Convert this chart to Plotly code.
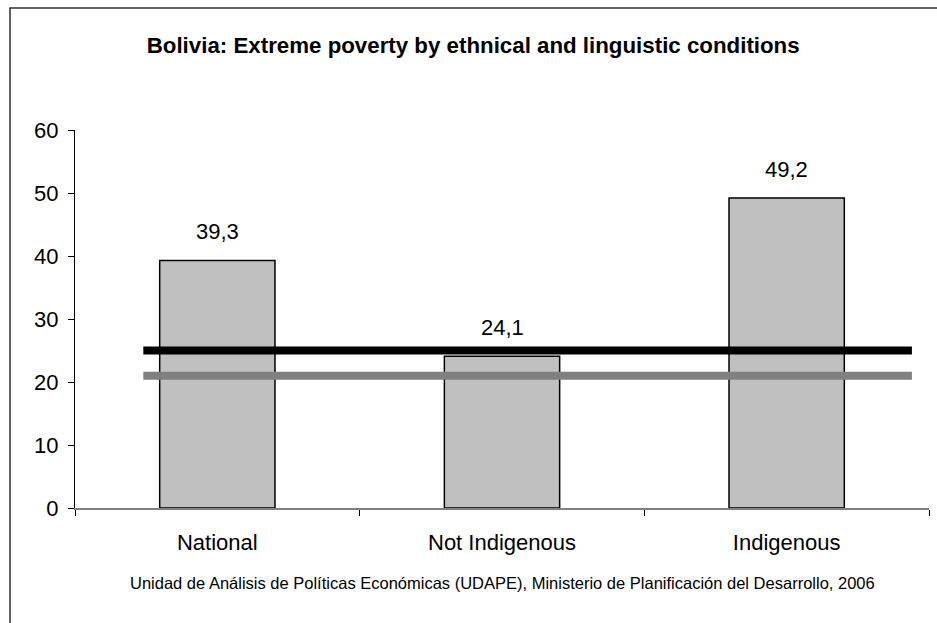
import plotly.graph_objects as go

categories = ["National", "Not Indigenous", "Indigenous"]
values = [39.3, 24.1, 49.2]
line_levels = [25, 21]
line_colors = ["#000000", "#808080"]
line_x = [-0.26, 2.44]
y_ticks = [0, 10, 20, 30, 40, 50, 60]

title = "Bolivia: Extreme poverty by ethnical and linguistic conditions"
source = "Unidad de Análisis de Políticas Económicas (UDAPE), Ministerio de Planificación del Desarrollo, 2006"

FONT = "Liberation Sans, Arial, sans-serif"

fig = go.Figure()
fig.add_trace(go.Bar(
    x=categories, y=values, width=0.405,
    marker=dict(color="#c0c0c0", line=dict(color="#000000", width=1.5)),
    showlegend=False, hoverinfo="skip",
))
for lvl, col in zip(line_levels, line_colors):
    fig.add_trace(go.Scatter(
        x=line_x, y=[lvl, lvl], xaxis="x2", mode="lines",
        line=dict(color=col, width=8), showlegend=False, hoverinfo="skip",
    ))

for c, v in zip(categories, values):
    fig.add_annotation(x=c, y=v, text=f"{v:.1f}".replace(".", ","), showarrow=False,
                       yshift=29, font=dict(size=22, color="#000000", family=FONT))

fig.add_annotation(xref="paper", yref="paper", x=0.5, y=-0.205, yshift=-9, text=source,
                   showarrow=False, font=dict(size=16.5, color="#000000", family=FONT))

fig.add_shape(type="rect", xref="paper", yref="paper", x0=-0.0761, x1=1.2, y0=-0.5, y1=1.323,
              line=dict(color="#303030", width=1.5), fillcolor="rgba(0,0,0,0)", layer="below")

fig.update_layout(
    width=937, height=623,
    margin=dict(l=75, r=8, t=130, b=115),
    paper_bgcolor="white", plot_bgcolor="white",
    font=dict(family=FONT, color="#000000"),
    title=dict(text=f"<b>{title}</b>", x=0.505, xref="container", xanchor="center",
               y=1 - 45 / 623, yref="container", yanchor="middle",
               font=dict(size=22.3, family=FONT, color="#000000")),
    xaxis=dict(type="category", showgrid=False, showline=True, linecolor="#808080", linewidth=2,
               ticks="outside", tickson="boundaries", ticklen=6, tickcolor="#000000",
               tickfont=dict(size=22), ticklabelstandoff=14, zeroline=False),
    xaxis2=dict(overlaying="x", range=[-0.5, 2.5], visible=False),
    yaxis=dict(range=[0, 60], tickvals=y_ticks, showgrid=False, showline=True, linecolor="#000000",
               linewidth=1, ticks="outside", ticklen=6, tickcolor="#000000",
               tickfont=dict(size=22), ticklabelstandoff=5, zeroline=False),
)

fig.write_html("out.html")
